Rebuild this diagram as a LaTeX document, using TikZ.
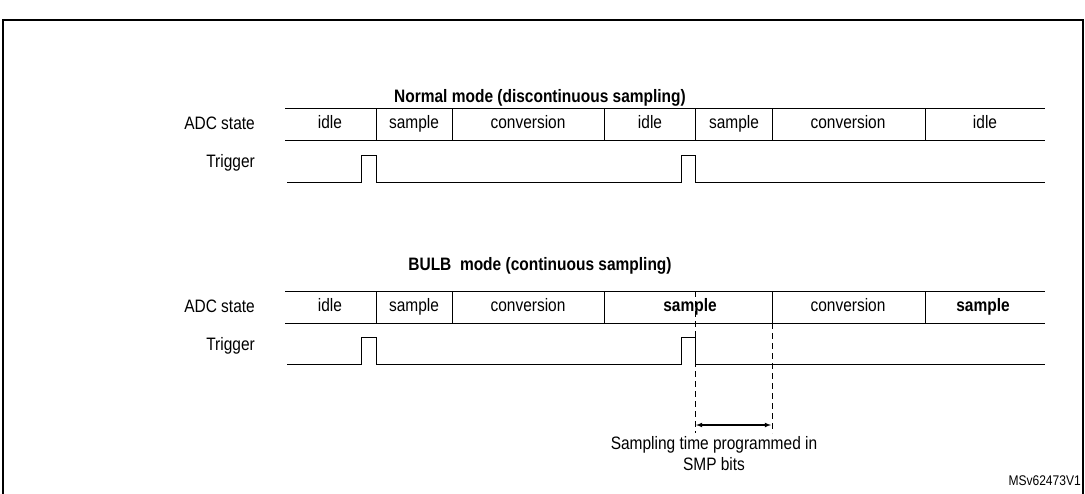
\documentclass[tikz,border=0pt]{standalone}
\usepackage{fontspec}
\setmainfont{Liberation Sans}[FakeStretch=0.86]
\begin{document}
\begin{tikzpicture}[x=1pt,y=-1pt,
  lab/.style={font=\fontsize{18}{21}\selectfont,inner sep=0pt},
  ttl/.style={font=\fontsize{18}{21}\selectfont\bfseries,inner sep=0pt},
  sig/.style={line width=0.9pt},
  dsh/.style={line width=0.7pt,dash pattern=on 6pt off 4pt}]
\useasboundingbox (0,0) rectangle (1085,493);
\draw[line width=1.2pt] (3,495) -- (3,20) -- (1083,20) -- (1083,495);
% top
\node[ttl] (t1) at (540,98) {Normal mode (discontinuous sampling)};
\node[lab,anchor=east] (a1) at (255,123) {ADC state};
\node[lab,anchor=east] (g1) at (255,163) {Trigger};
\draw[sig] (285,108) -- (1045,108) (285,140) -- (1045,140);
\foreach \x in {376,452,604,695,772,925} \draw[sig] (\x,108) -- (\x,140);
\foreach \x/\t in {330/idle,414/sample,528/conversion,650/idle,734/sample,848/conversion,985/idle}
  \node[lab,text height=13pt,text depth=4pt] at (\x,124) {\t};
\draw[sig] (287,182) -- (361,182) -- (361,155) -- (376,155) -- (376,182) -- (681,182) -- (681,155) -- (695,155) -- (695,182) -- (1045,182);
% bottom
\node[ttl] (t2) at (540,266) {BULB\ \ mode (continuous sampling)};
\node[lab,anchor=east] (a2) at (255,306) {ADC state};
\node[lab,anchor=east] (g2) at (255,346) {Trigger};
\draw[sig] (285,291) -- (1045,291) (285,323) -- (1045,323);
\foreach \x in {376,452,604,772,925} \draw[sig] (\x,291) -- (\x,323);
\foreach \x/\t in {330/idle,414/sample,528/conversion,848/conversion}
  \node[lab,text height=13pt,text depth=4pt] at (\x,307) {\t};
\node[ttl,text height=13pt,text depth=4pt] at (690,307) {sample};
\node[ttl,text height=13pt,text depth=4pt] at (983,307) {sample};
\draw[sig] (287,364) -- (361,364) -- (361,337) -- (376,337) -- (376,364) -- (681,364) -- (681,337) -- (695,337) -- (695,364) -- (1045,364);
\draw[dsh] (695,291) -- (695,433);
\draw[dsh] (772,323) -- (772,433);
\coordinate (p1) at (696,425);
\coordinate (p2) at (771,425);
\draw[line width=1.1pt,<->,>=latex] (p1) -- (p2);
\node[lab,align=center] (s) at (714,454) {Sampling time programmed in\\SMP bits};
\node[lab,anchor=east,font=\fontsize{14}{16}\selectfont] (m) at (1081,481) {MSv62473V1};
\end{tikzpicture}
\end{document}
